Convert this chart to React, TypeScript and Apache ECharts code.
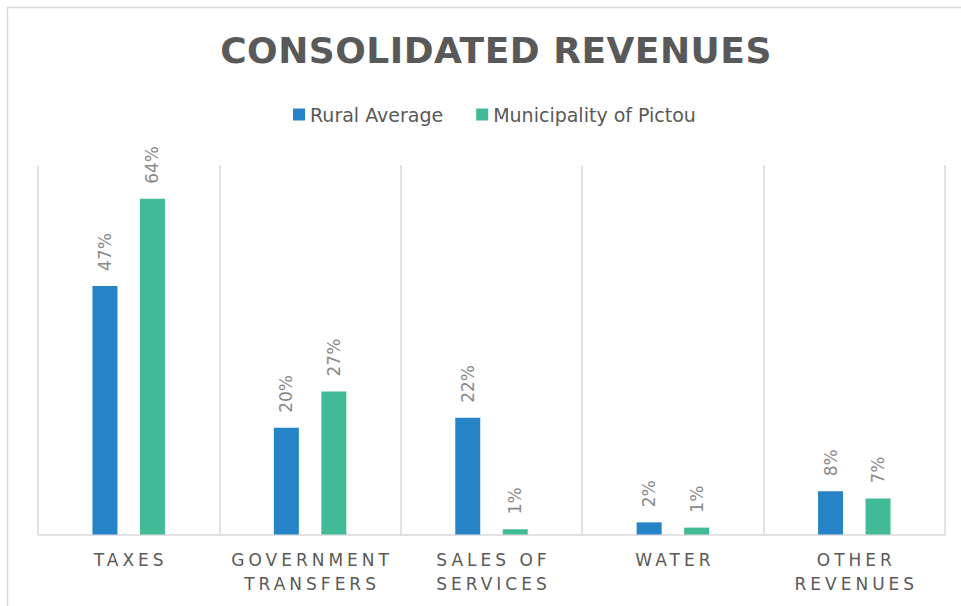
import React, { useEffect, useRef } from "react";
import * as echarts from "echarts";

const titleText = "CONSOLIDATED REVENUES";
const categories = ["TAXES", "GOVERNMENT\nTRANSFERS", "SALES OF\nSERVICES", "WATER", "OTHER\nREVENUES"];
const seriesNames = ["Rural Average", "Municipality of Pictou"];
const ruralAverage = [47.1, 20.2, 22.1, 2.3, 8.2];
const pictou = [63.6, 27.1, 1.0, 1.3, 6.8];
const yMin = 0;
const yMax = 70;

const FONT = "DejaVu Sans";
const AXIS_SPACING = 4;
const TITLE_SPACING = 0.5;

export default function App() {
  const ref = useRef<HTMLDivElement>(null);

  useEffect(() => {
    const el = ref.current!;
    const chart = echarts.init(el, null, { renderer: "svg" });

    const dataLabel = {
      show: true,
      position: "top",
      rotate: 90,
      align: "left",
      verticalAlign: "middle",
      distance: 15,
      color: "#898989",
      fontSize: 17,
      fontFamily: FONT,
      formatter: (p: any) => Math.round(p.value) + "%",
    };

    chart.setOption({
      animation: false,
      backgroundColor: "#ffffff",
      title: {
        text: titleText,
        left: 491,
        top: 27,
        textAlign: "center",
        textStyle: { fontFamily: FONT, fontWeight: "bold", fontSize: 36, color: "#595959" },
      },
      legend: {
        data: seriesNames,
        left: 288,
        top: 100,
        icon: "rect",
        itemWidth: 12,
        itemHeight: 12,
        itemGap: 33,
        textStyle: { fontFamily: FONT, fontSize: 19, color: "#595959" },
      },
      grid: { left: 38, top: 165, width: 907, height: 369.5 },
      xAxis: {
        type: "category",
        data: categories,
        axisLine: { lineStyle: { color: "#d9d9d9", width: 1.5 } },
        axisTick: { show: false },
        splitLine: { show: true, lineStyle: { color: "#d9d9d9", width: 1.5 } },
        axisLabel: {
          interval: 0,
          margin: 13,
          color: "#595959",
          fontSize: 17,
          lineHeight: 24,
          fontFamily: FONT,
        },
      },
      yAxis: { type: "value", min: yMin, max: yMax, show: false },
      series: [
        {
          name: seriesNames[0],
          type: "bar",
          data: ruralAverage,
          barWidth: 25,
          barGap: "90%",
          itemStyle: { color: "#2683C6" },
          label: dataLabel,
        },
        {
          name: seriesNames[1],
          type: "bar",
          data: pictou,
          barWidth: 25,
          barGap: "90%",
          itemStyle: { color: "#42BA97" },
          label: dataLabel,
        },
      ],
      graphic: [
        {
          type: "rect",
          silent: true,
          shape: { x: 7.5, y: 7.5, width: 1000, height: 700 },
          style: { fill: "none", stroke: "#d9d9d9", lineWidth: 1.5 },
        },
      ],
    });

    const axisLines = new Set<string>();
    categories.forEach((c) => c.split("\n").forEach((l) => axisLines.add(l)));
    const applySpacing = () => {
      el.querySelectorAll("text").forEach((t) => {
        const s = (t.textContent || "").trim();
        if (axisLines.has(s)) {
          t.setAttribute("letter-spacing", String(AXIS_SPACING));
          t.setAttribute("dx", String(AXIS_SPACING / 2));
        } else if (s === titleText) {
          t.setAttribute("letter-spacing", String(TITLE_SPACING));
        }
      });
    };
    applySpacing();
    chart.on("finished", applySpacing);
    const raf = requestAnimationFrame(applySpacing);
    const to = setTimeout(applySpacing, 50);

    return () => {
      cancelAnimationFrame(raf);
      clearTimeout(to);
      chart.dispose();
    };
  }, []);

  return (
    <div
      ref={ref}
      style={{ position: "fixed", left: 0, top: 0, width: 961, height: 606, background: "#fff" }}
    />
  );
}
